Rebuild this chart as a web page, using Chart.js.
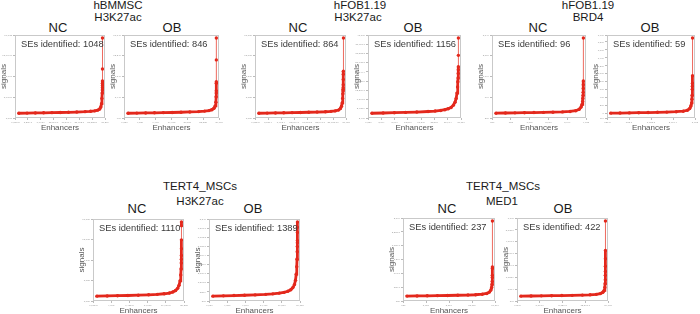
<!DOCTYPE html>
<html><head><meta charset="utf-8">
<script src="https://cdn.jsdelivr.net/npm/chart.js@4.4.0/dist/chart.umd.min.js"></script>
<style>
html,body{margin:0;padding:0;background:#fff;}
#wrap{position:relative;width:700px;height:314px;overflow:hidden;font-family:"Liberation Sans",Arial,sans-serif;}
.t{position:absolute;transform:translate(-50%,-50%);line-height:1;white-space:nowrap;color:#1a1a1a;}
.g{font-size:11.5px;}
.c{font-size:13px;}
canvas{position:absolute;}
</style></head><body><div id="wrap"></div>
<script>
// ---- data ----
const panelNames = ["hBMMSC NC","hBMMSC OB","hFOB1.19 H3K27ac NC","hFOB1.19 H3K27ac OB","hFOB1.19 BRD4 NC","hFOB1.19 BRD4 OB","TERT4_MSCs H3K27ac NC","TERT4_MSCs H3K27ac OB","TERT4_MSCs MED1 NC","TERT4_MSCs MED1 OB"];
const seCounts = [1048, 846, 864, 1156, 96, 59, 1110, 1389, 237, 422];

const hbNC_rank = [1,3000,6000,9000,12000,15000,18000,21000,24000,26000,27500,28600,29300,29700,29950,30100,30200,30250,30270,30285,30292,30296,30299,30300];
const hbNC_sig  = [55,90,130,165,200,240,290,350,440,530,640,820,1100,1560,2380,3660,4940,5670,6220,6770,7320,7870,10800,18300];

const hbOB_rank = [1,3000,6000,9000,12000,15000,18000,21000,24000,26000,27500,28500,29200,29600,29850,29930,29970,29985,29992,29996,29998,30000];
const hbOB_sig  = [50,80,110,145,175,210,255,320,400,500,610,800,1120,1600,2400,3520,4320,4800,6400,6720,11360,16000];

const fhNC_rank = [1,3000,6000,9000,12000,15000,18000,21000,24000,26000,27500,28700,29400,29800,30050,30200,30300,30350,30380,30400,30420,30440,30460,30480,30500];
const fhNC_sig  = [51,85,119,153,187,221,272,323,391,476,578,765,1105,1615,2380,3400,4420,5100,5440,5780,6460,7650,8840,9520,17000];

const fhOB_rank = [1,4000,8000,12000,16000,20000,22500,24500,26000,27200,28200,29000,29600,30000,30300,30500,30620,30700,30740,30770,30785,30795,30800];
const fhOB_sig  = [120,240,400,560,760,1040,1280,1600,2000,2520,3200,4400,6000,8000,10800,14000,16800,18800,21200,23200,24800,30800,40000];

const brNC_rank = [1,500,1000,1500,2000,2500,3000,3500,3900,4200,4380,4480,4530,4560,4575,4585,4590,4594,4597,4599,4600];
const brNC_sig  = [14,22,29,36,43,50,61,76,97,133,198,306,432,576,720,864,1008,1188,1368,1548,3600];

const brOB_rank = [1,400,800,1200,1600,2000,2400,2800,3100,3280,3380,3430,3460,3475,3485,3490,3494,3497,3499,3500];
const brOB_sig  = [8,11,15,19,23,29,34,44,57,80,124,190,266,361,456,608,684,760,950,1900];

const thNC_rank = [1,3000,6000,9000,12000,15000,17500,19500,21000,22000,22800,23400,23800,24100,24300,24400,24450,24470,24480,24490,24495,24498,24500];
const thNC_sig  = [85,136,187,238,306,391,493,629,799,1020,1360,1870,2550,3570,4930,6290,7650,8500,9350,10880,12920,16150,17000];

const thOB_rank = [1,3000,6000,9000,12000,15000,17000,18800,20200,21300,22100,22700,23150,23450,23650,23800,23880,23930,23960,23980,23990,23995,23998,24000];
const thOB_sig  = [43,77,111,145,187,247,306,383,476,595,765,1020,1360,1870,2550,3400,4250,5100,5695,6120,6375,7310,7905,8500];

const mdNC_rank = [1,2000,4000,6000,8000,10000,12000,13500,14800,15700,16200,16500,16650,16720,16760,16780,16790,16795,16798,16800];
const mdNC_sig  = [13,18,23,29,34,42,49,60,78,104,151,221,312,416,520,650,728,962,1014,2600];

const mdOB_rank = [1,2000,4000,6000,8000,10000,12000,13500,14700,15500,16000,16250,16380,16440,16470,16485,16492,16496,16498,16499,16500];
const mdOB_sig  = [26,39,52,65,78,98,117,143,182,247,358,520,780,1105,1430,1820,2145,2600,3250,3965,6500];

const xTickSteps = [5000,5000,5000,5000,1000,1000,5000,5000,5000,5000];
const yTickSteps = [5000,5000,5000,5000,1000,200,5000,1000,500,1000];

const ranks = [hbNC_rank,hbOB_rank,fhNC_rank,fhOB_rank,brNC_rank,brOB_rank,thNC_rank,thOB_rank,mdNC_rank,mdOB_rank];
const sigs  = [hbNC_sig,hbOB_sig,fhNC_sig,fhOB_sig,brNC_sig,brOB_sig,thNC_sig,thOB_sig,mdNC_sig,mdOB_sig];

// ---- layout ----
const boxes = [ // left, top, right, bottom of plot frame
  [15,33,107,118],[124,33,221,118],[255,33,348,118],[368,33,463,118],[492,33,588,118],[607,33,697,118],
  [93,217,186,301],[209,217,302,301],[403,216,497,301],[517,216,610,301]
];
const labels = [
  ["hBMMSC",118,6,"g"],["H3K27ac",118,17.5,"g"],["NC",58,26.5,"c"],["OB",172,26.5,"c"],
  ["hFOB1.19",360,6,"g"],["H3K27ac",358,17.5,"g"],["NC",298,26.5,"c"],["OB",413,26.5,"c"],
  ["hFOB1.19",588,6,"g"],["BRD4",588,17.5,"g"],["NC",538,26.5,"c"],["OB",650,26.5,"c"],
  ["TERT4_MSCs",200,187,"g"],["H3K27ac",200,202,"g"],["NC",137,207.5,"c"],["OB",253,207.5,"c"],
  ["TERT4_MSCs",503,187,"g"],["MED1",502,202,"g"],["NC",447,207.5,"c"],["OB",563,207.5,"c"]
];
const wrap = document.getElementById('wrap');
labels.forEach(([t,x,y,c])=>{const d=document.createElement('div');d.className='t '+c;d.textContent=t;d.style.left=x+'px';d.style.top=y+'px';wrap.appendChild(d);});

const RED = '#e3281c';
const YW = 16, XH = 15, PT = 2, PR = 2;
const framePlugin = {
  id:'frame',
  afterDraw(chart){
    const a = chart.chartArea, ctx = chart.ctx;
    ctx.save();
    ctx.strokeStyle = '#c9c9c9'; ctx.lineWidth = 1;
    ctx.strokeRect(Math.round(a.left)+0.5, Math.round(a.top)+0.5, Math.round(a.right-a.left)-1, Math.round(a.bottom-a.top)-1);
    ctx.fillStyle = '#3a3a3a';
    ctx.font = '9.3px "Liberation Sans", Arial, sans-serif';
    ctx.textBaseline = 'alphabetic';
    ctx.fillText('SEs identified: ' + chart.options.plugins.frame.n, a.left + 6, a.top + 12);
    ctx.restore();
  }
};

boxes.forEach((b,i)=>{
  const [l,t,r,btm] = b;
  const w = r-l, h = btm-t;
  const cv = document.createElement('canvas');
  const cw = w + YW + PR, ch = h + PT + XH;
  cv.width = cw; cv.height = ch;
  cv.style.left = (l-YW)+'px'; cv.style.top = (t-PT)+'px';
  cv.style.width = cw+'px'; cv.style.height = ch+'px';
  wrap.appendChild(cv);
  const xs = ranks[i], ys = sigs[i];
  const N = xs[xs.length-1];
  const ymax = Math.max(...ys);
  const pts = xs.map((x,k)=>({x:x, y:ys[k]}));
  new Chart(cv, {
    type:'scatter',
    data:{datasets:[{
      data:pts, showLine:true, borderColor:RED, backgroundColor:RED,
      pointBackgroundColor:RED, pointBorderColor:RED, pointRadius:1.7, pointBorderWidth:0,
      borderWidth:2.8,
      segment:{borderWidth: ctx => Math.abs(ctx.p1.y - ctx.p0.y) > 9 ? 1 : 2.8,
               borderColor: ctx => Math.abs(ctx.p1.y - ctx.p0.y) > 9 ? '#ee6a5f' : RED}
    }]},
    options:{
      responsive:false, animation:false, devicePixelRatio:1,
      layout:{padding:{top:PT,right:PR,left:0,bottom:0}},
      plugins:{legend:{display:false}, tooltip:{enabled:false}, frame:{n:seCounts[i]}},
      scales:{
        x:{type:'linear', min:-0.045*N, max:1.03*N,
           border:{display:false},
           grid:{display:true, drawOnChartArea:false, drawTicks:true, tickLength:2, color:'#bbb'},
           ticks:{stepSize:xTickSteps[i], font:{size:2.5, family:'Liberation Sans'}, color:'#999', padding:1, maxRotation:0, autoSkip:false},
           title:{display:true, text:'Enhancers', font:{size:8, family:'Liberation Sans'}, color:'#555', padding:{top:0,bottom:0}},
           afterFit(s){ s.height = XH; s.paddingLeft = 0; s.paddingRight = 0; }
        },
        y:{type:'linear', min:-0.06*ymax, max:1.04*ymax,
           border:{display:false},
           grid:{display:true, drawOnChartArea:false, drawTicks:true, tickLength:2, color:'#bbb'},
           ticks:{stepSize:yTickSteps[i], font:{size:2.5, family:'Liberation Sans'}, color:'#999', padding:1, autoSkip:false},
           title:{display:true, text:'signals', font:{size:8, family:'Liberation Sans'}, color:'#555', padding:{top:0,bottom:0}},
           afterFit(s){ s.width = YW; s.paddingTop = 0; s.paddingBottom = 0; }
        }
      }
    },
    plugins:[framePlugin]
  });
});
</script></body></html>
